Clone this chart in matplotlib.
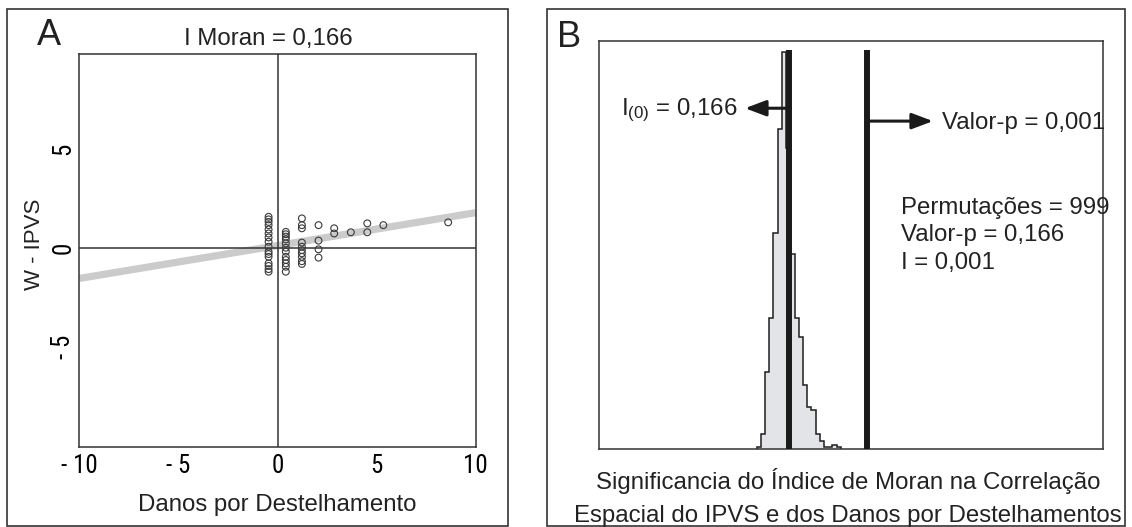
import matplotlib
matplotlib.use("Agg")
import matplotlib.pyplot as plt
import numpy as np
from matplotlib import font_manager
from matplotlib.patches import Rectangle

# ---------------- data ----------------
# Panel A: Moran scatterplot (Danos por Destelhamento vs W - IPVS)
x_danos = [-0.45] * 16 + [0.42] * 12 + [1.23] * 10 + [2.07] * 4 + [2.86] * 2 + [3.70, 4.53, 4.53, 5.34, 8.61]
y_wipvs = [1.56, 1.43, 1.30, 1.14, 0.92, 0.72, 0.52, 0.30, 0.05, -0.20, -0.32, -0.46, -0.79, -0.92, -1.08, -1.21,
           0.80, 0.68, 0.56, 0.42, 0.22, 0.00, -0.20, -0.46, -0.62, -0.79, -0.96, -1.21,
           1.48, 1.14, 0.98, 0.26, 0.05, -0.12, -0.28, -0.46, -0.68, -0.82,
           1.14, 0.36, -0.08, -0.50,
           0.98, 0.72,
           0.78, 1.23, 0.78, 1.14, 1.28]
moran_slope = 0.166
moran_intercept = 0.11
xticks_A = [-10, -5, 0, 5, 10]
xticklabels_A = ["- 10", "- 5", "0", "5", "10"]
yticks_A = [-5, 0, 5]
yticklabels_A = ["- 5", "0", "5"]

# Panel B: permutation distribution of Moran's I (999 permutations)
perm_counts = [1, 7, 37, 63, 104, 154, 191, 145, 94, 63, 54, 31, 20, 19, 7, 4, 1, 1, 2, 1]
bin_start = -0.097
bin_width = 0.01
I_expected = -0.0208
I_observed = 0.166

# ---------------- style ----------------
plt.rcParams["font.family"] = ["Liberation Sans", "DejaVu Sans"]
plt.rcParams["mathtext.fontset"] = "custom"
plt.rcParams["mathtext.rm"] = "Liberation Sans"
plt.rcParams["mathtext.it"] = "Liberation Sans:italic"

names = {f.name for f in font_manager.fontManager.ttflist}
tick_family = ["Liberation Sans", "DejaVu Sans"]
tick_size = 16.5
for cand in ["Liberation Sans Narrow", "Roboto Condensed", "Open Sans Condensed", "Arial Narrow"]:
    if cand in names:
        tick_family = [cand, "Liberation Sans"]
        tick_size = 18
        break

W, H = 1132, 527
fig = plt.figure(figsize=(W / 100, H / 100), dpi=100)


def fx(px):
    return px / W


def fy(py):
    return 1 - py / H


dark = "#333333"
TXT = 17.3

# panel frames
for x0, x1 in [(7, 508), (547, 1125)]:
    fig.add_artist(Rectangle((fx(x0), fy(526)), (x1 - x0) / W, (526 - 9) / H,
                             transform=fig.transFigure, fill=False, ec=dark, lw=1.2))

# ---------------- Panel A ----------------
axA = fig.add_axes([fx(79.3), fy(446.8), (475.7 - 79.3) / W, (446.8 - 53.6) / H])
axA.set_xlim(-10, 10)
axA.set_ylim(-10.05, 9.8)
lx = np.array(axA.get_xlim())
axA.plot(lx, moran_slope * lx + moran_intercept, color="#cbcbcb", lw=5.2, solid_capstyle="butt", zorder=1)
axA.axhline(0, color=dark, lw=1.1, zorder=2)
axA.axvline(0, color=dark, lw=1.1, zorder=2)
axA.scatter(x_danos, y_wipvs, s=24, facecolors="none", edgecolors="#3a3a3a", linewidths=0.8, zorder=3)
axA.set_xticks(xticks_A)
axA.set_xticklabels(xticklabels_A, family=tick_family, fontsize=tick_size)
axA.set_yticks(yticks_A)
axA.set_yticklabels(yticklabels_A, family=tick_family, fontsize=tick_size, rotation=90, va="center")
axA.tick_params(axis="x", length=0, pad=5)
axA.tick_params(axis="y", length=0, pad=3)
for s in axA.spines.values():
    s.set_color(dark)
    s.set_linewidth(1.1)

fig.text(fx(37), fy(44.6), "A", fontsize=26, ha="left", va="baseline", color="#222222")
fig.text(fx(268), fy(45), "I Moran = 0,166", fontsize=TXT, ha="center", va="baseline", color="#222222")
fig.text(fx(277.5), fy(511), "Danos por Destelhamento", fontsize=TXT, ha="center", va="baseline", color="#222222")
fig.text(fx(35), fy(244), "W - IPVS", fontsize=16, ha="center", va="center", rotation=90, color="#222222")

# ---------------- Panel B ----------------
axB = fig.add_axes([fx(599), fy(449), (1103 - 599) / W, (449 - 40.7) / H])
edges = bin_start + bin_width * np.arange(len(perm_counts) + 1)
axB.set_xlim(-0.4716, 0.7261)
axB.set_ylim(0, 196.5)
axB.stairs(perm_counts, edges, fill=True, facecolor="#e3e4e7", edgecolor="#1e1e1e", lw=1.1, zorder=1)
axB.vlines([I_expected, I_observed], 0, 192, color="#1a1a1a", lw=4.3, zorder=3)
arrow_style = "-|>,head_length=0.85,head_width=0.32"
axB.annotate("", xy=(-0.1246, 164), xytext=(I_expected, 164),
             arrowprops=dict(arrowstyle=arrow_style, lw=2.2, color="#1a1a1a",
                             shrinkA=0, shrinkB=0, mutation_scale=15), zorder=4)
axB.annotate("", xy=(0.322, 157.8), xytext=(I_observed, 157.8),
             arrowprops=dict(arrowstyle=arrow_style, lw=2.2, color="#1a1a1a",
                             shrinkA=0, shrinkB=0, mutation_scale=15), zorder=4)
axB.set_xticks([])
axB.set_yticks([])
for s in axB.spines.values():
    s.set_color(dark)
    s.set_linewidth(1.1)

fig.text(fx(557), fy(46.7), "B", fontsize=26, ha="left", va="baseline", color="#222222")
fig.text(fx(738), fy(110), r"I$_{\mathrm{(0)}}$ = 0,166", fontsize=TXT, ha="right", va="center", color="#222222")
fig.text(fx(942), fy(123), "Valor-p = 0,001", fontsize=TXT, ha="left", va="center", color="#222222")
fig.text(fx(901), fy(214), "Permutações = 999", fontsize=TXT, ha="left", va="baseline", color="#222222")
fig.text(fx(901), fy(241.5), "Valor-p = 0,166", fontsize=TXT, ha="left", va="baseline", color="#222222")
fig.text(fx(901), fy(269), "I = 0,001", fontsize=TXT, ha="left", va="baseline", color="#222222")
fig.text(fx(848), fy(489), "Significancia do Índice de Moran na Correlação", fontsize=TXT,
         ha="center", va="baseline", color="#222222")
fig.text(fx(848), fy(522), "Espacial do IPVS e dos Danos por Destelhamentos", fontsize=TXT,
         ha="center", va="baseline", color="#222222")

fig.savefig("out.png", dpi=100, facecolor="white")
